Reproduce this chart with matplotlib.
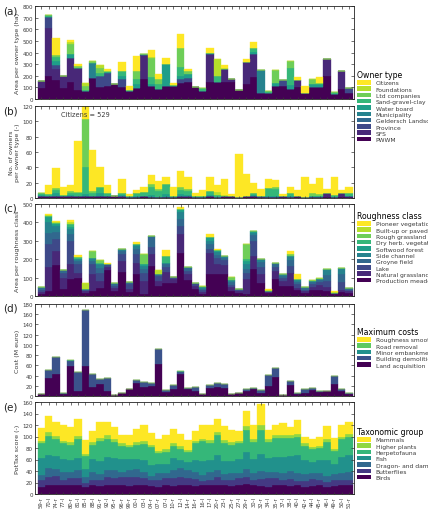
import numpy as np
import matplotlib
matplotlib.use('Agg')
import matplotlib.pyplot as plt
from matplotlib.patches import Patch

labels = ['59-r','70-l','74-r','77-l','80-r','81-l','85-l','88-l','91-r','92-l','95-r','96-r','99-r',
          '00-l','03-l','04-r','07-r','07-l','10-r','12-l','14-r','16-r','16-l','17-l','20-r','23-l',
          '25-r','27-l','29-r','30-l','32-r','34-l','35-r','37-l','38-l','40-l','42-r','44-l','45-r',
          '46-l','49-r','50-l','51-r']

# ---- (a) Area per owner type (ha) ----
owner_names = ['PWWM','SFS','Province','Geldersch Landschap','Municipality','Water board',
               'Sand-gravel-clay','Ltd companies','Foundations','Citizens']
a_pwwm = [95,195,160,95,150,80,65,180,100,115,125,100,65,92,175,110,86,110,110,140,145,100,70,145,150,150,145,80,130,185,55,55,110,115,90,100,55,100,100,195,45,85,50]
a_sfs = [60,420,100,100,200,190,0,0,0,0,0,0,0,0,205,0,0,0,0,0,0,0,0,240,0,110,28,0,190,200,0,0,0,0,0,65,0,0,0,145,0,160,0]
a_prov = [0,90,30,0,0,0,0,0,100,105,0,70,0,0,0,0,0,0,0,30,35,0,0,0,0,0,0,0,0,0,0,0,0,50,0,0,0,0,0,0,0,0,42]
a_gl = [0,0,0,0,0,0,0,0,0,0,5,0,0,0,0,0,0,0,0,0,0,0,0,0,0,0,0,0,0,0,0,0,0,0,0,0,0,0,0,0,0,0,0]
a_mun = [0,0,0,0,0,0,0,130,0,0,0,0,0,0,0,0,0,0,0,0,0,0,0,0,0,0,0,0,0,0,198,0,0,0,0,0,0,0,0,0,0,0,0]
a_wb = [0,0,40,0,40,0,0,0,0,15,0,25,0,38,10,20,0,190,0,30,35,0,0,10,0,0,0,0,0,20,0,0,30,0,30,0,0,25,25,0,0,0,0]
a_sand = [0,15,30,0,0,0,15,0,20,0,0,50,15,40,0,60,45,0,10,75,0,0,22,0,45,0,0,0,0,35,0,17,0,0,150,0,0,0,0,0,18,0,0]
a_ltd = [0,0,15,0,80,15,30,20,50,10,0,0,0,75,0,160,45,0,0,160,25,0,0,0,0,0,0,0,0,0,0,0,113,0,60,0,0,48,15,5,0,0,0]
a_found = [0,0,0,0,20,0,25,0,25,0,0,0,0,0,0,15,0,0,0,0,0,0,0,0,150,10,0,0,0,0,0,0,0,0,0,0,0,0,0,0,0,0,0]
a_cit = [0,0,150,0,15,17,0,0,0,10,0,77,35,129,0,58,40,49,15,120,20,0,0,42,0,26,0,0,25,50,0,0,0,0,0,22,55,0,47,0,0,0,0]

# ---- (b) No. of owners per owner type ----
b_pwwm = [1,1,1,1,1,1,1,1,1,1,2,1,1,1,1,1,1,1,1,1,1,1,1,1,1,1,1,1,1,1,1,1,1,1,1,1,1,1,1,1,1,1,1]
b_sfs = [1,1,1,1,1,1,1,1,1,1,0,0,0,0,2,0,0,0,0,0,0,0,0,1,0,1,1,0,1,1,0,0,0,0,0,1,0,0,0,5,0,5,0]
b_prov = [0,1,1,0,0,1,0,0,1,0,0,1,0,0,0,0,0,0,0,1,1,0,0,0,0,0,0,0,0,0,0,0,0,1,0,0,0,0,0,0,0,0,2]
b_gl = [0]*43
b_mun = [0,0,0,0,0,0,0,0,0,0,0,0,0,0,0,0,0,0,0,0,0,0,0,0,0,0,0,0,0,0,2,0,0,0,0,0,0,0,0,0,0,0,0]
b_wb = [2,0,3,0,2,0,3,0,3,0,0,2,0,2,0,3,0,4,0,3,2,0,0,2,0,0,0,0,0,2,0,2,2,0,2,0,0,2,2,0,0,0,0]
b_sand = [3,2,5,2,3,3,35,4,9,4,0,3,1,3,5,10,8,13,2,6,5,2,2,5,3,0,0,0,0,3,0,10,9,0,3,0,0,0,0,0,3,0,3]
b_ltd = [0,0,2,0,2,2,63,3,0,0,0,0,0,1,0,4,3,0,0,4,3,0,0,0,0,0,0,0,0,0,0,0,3,0,1,0,0,3,2,0,0,0,0]
b_found = [0,0,0,0,0,0,0,0,0,0,0,0,0,0,0,0,0,0,0,0,0,0,0,0,4,2,0,0,0,0,0,0,0,0,0,0,0,0,0,0,0,0,0]
b_cit = [0,12,26,11,8,66,529,54,25,11,1,18,3,3,7,12,10,9,12,20,15,3,7,18,9,21,3,57,29,13,9,12,8,3,8,9,26,12,21,6,23,4,8]

# ---- (c) Area per roughness class ----
rough_names = ['Production meadow','Natural grassland','Lake','Groyne field','Side channel',
               'Softwood forest','Dry herb. vegetation','Rough grassland','Built-up or paved',
               'Pioneer vegetation']
c_pm = [10,27,170,36,91,96,18,27,45,140,27,133,20,118,9,164,55,73,73,236,85,40,10,122,120,118,27,15,10,145,70,15,95,55,55,30,15,30,35,25,10,20,15]
c_ng = [10,128,75,64,82,31,10,91,36,15,15,58,20,64,73,63,27,55,18,100,33,15,10,114,55,50,20,10,80,75,50,5,40,25,70,15,10,20,25,25,5,15,10]
c_lake = [15,127,65,27,127,46,5,55,46,15,15,36,25,45,45,37,25,27,13,46,18,10,10,18,30,25,15,10,35,80,35,5,25,20,40,20,10,15,15,30,3,40,10]
c_gf = [10,60,40,13,36,18,0,18,27,5,9,18,13,27,18,54,10,18,0,36,14,8,10,28,20,15,15,5,20,30,30,0,15,10,30,10,8,10,10,35,0,45,5]
c_sc = [4,58,32,0,28,9,4,18,18,0,7,10,0,18,18,9,5,9,0,37,5,0,10,18,15,10,10,0,30,15,15,3,7,8,20,10,6,5,10,25,0,25,5]
c_sf = [0,27,8,0,9,0,0,0,0,0,0,0,0,9,9,0,0,0,0,13,0,0,0,18,7,0,0,0,15,6,0,0,0,0,0,0,0,0,0,5,0,6,0]
c_dh = [0,8,5,0,18,10,0,0,10,0,0,0,0,0,0,0,0,36,0,5,0,0,0,0,5,0,0,0,10,0,0,0,0,0,0,5,0,0,0,0,0,0,0]
c_rg = [0,0,0,0,0,0,0,36,13,0,0,0,0,0,55,0,0,0,0,0,0,0,5,0,0,0,17,0,82,0,0,0,0,0,15,0,0,5,5,0,0,0,0]
c_bp = [0,5,5,0,9,0,36,0,0,0,0,0,0,0,0,0,18,0,0,0,0,0,0,0,0,0,0,0,0,0,0,3,0,0,0,0,0,0,0,0,5,0,0]
c_pv = [0,5,5,0,13,12,0,0,0,3,0,0,0,14,0,0,0,31,0,12,0,0,0,18,3,0,0,0,0,0,0,5,0,0,15,32,0,0,0,0,4,0,0]

# ---- (d) Cost (M euro) ----
cost_names = ['Land acquisition','Building demolition','Minor embankment','Road removal','Roughness smoothing']
d_la = [3,35,44,3,59,10,58,18,23,10,1,5,13,25,18,20,62,8,13,43,13,10,3,15,18,15,3,6,10,14,5,20,38,1,21,4,5,12,8,9,23,9,3]
d_bd = [0,15,32,2,10,37,111,25,10,26,0,0,0,6,10,5,30,4,8,4,3,8,0,6,8,8,0,0,4,2,7,22,17,0,8,1,9,4,2,1,16,4,2]
d_me = [0,0,1,0,1,0,0,0.5,0,0,0,0,0,0,0,0,0,0,0,1,0,0,0,0,0,0,0,0,0,0,0,0,0,0,0,0,0,0,0,0,0,0,0]
d_rr = [0,0.5,0,0,0.5,0,0,0,0,0,0,0,0,0,0,0,0,0,0,1,0,0,0,0,0,0,0,0,0,0,0,0,0,0,0,0,0,0,0,0,0,0,0]
d_rs = [0]*43

# ---- (e) PotTax score ----
tax_names = ['Birds','Butterflies','Dragon- and damselflies','Fish','Herpetofauna','Higher plants','Mammals']
e_birds = [13,16,16,15,15,15,12,15,14,16,15,15,14,15,15,14,13,15,14,15,15,14,15,15,16,15,14,15,17,15,14,13,15,15,14,15,13,14,15,13,14,16,15]
e_butter = [12,14,16,10,12,12,8,10,10,14,12,14,15,14,12,10,12,12,14,15,12,12,8,10,14,10,10,12,12,10,12,14,12,10,12,8,10,12,10,8,10,8,10]
e_dragon = [8,16,12,14,12,14,10,14,10,12,14,10,12,14,12,8,12,10,14,16,14,12,10,14,12,10,12,10,14,12,14,12,12,12,14,14,12,10,12,10,10,12,14]
e_fish = [29,22,22,22,20,22,14,22,24,22,22,22,20,18,20,18,16,16,20,14,14,22,24,20,26,22,22,24,30,24,30,24,26,28,26,30,24,20,22,28,18,28,28]
e_herp = [26,33,29,27,27,32,22,25,34,32,28,22,20,24,28,31,18,20,22,19,18,28,35,30,34,32,28,27,39,30,42,27,32,32,31,32,25,22,21,31,22,31,32]
e_plants = [5,6,6,5,5,6,4,5,5,6,5,5,5,5,5,4,4,5,5,5,4,5,4,5,6,5,5,4,6,5,8,5,5,5,5,5,4,4,4,5,4,4,5]
e_mammals = [21,28,25,27,25,30,24,18,29,24,21,14,16,23,28,21,21,24,24,21,17,16,24,26,23,24,21,17,26,24,36,17,18,22,14,25,12,14,16,23,20,21,21]

TXT = '#3a3a3a'
fig = plt.figure(figsize=(4.28, 5.1), dpi=100)
L = 35 / 428
W = 319 / 428
rows = [(7, 100), (107, 199), (205, 297), (305, 397), (403, 495)]
axes = [fig.add_axes([L, 1 - b / 510, W, (b - t) / 510]) for t, b in rows]
x = np.arange(len(labels))


def stack(ax, series, names, title, leg_y):
    cols = plt.cm.viridis(np.linspace(0, 1, len(series)))
    bottom = np.zeros(len(labels))
    handles = []
    for s, c, n in zip(series, cols, names):
        s = np.asarray(s, float)
        ax.bar(x, s, bottom=bottom, width=1.0, color=c, edgecolor=c, linewidth=0.25)
        bottom += s
        handles.append(Patch(facecolor=c, edgecolor='none', label=n))
    if title is not None:
        fig.legend(handles=handles[::-1], loc='upper left', bbox_to_anchor=(357 / 428, leg_y),
                   frameon=False, title=title, fontsize=4.3, title_fontsize=5.6,
                   alignment='left', handlelength=2.3, handleheight=0.8, labelspacing=0.16,
                   borderpad=0, borderaxespad=0, handletextpad=0.8,
                   labelcolor=TXT)


stack(axes[0], [a_pwwm, a_sfs, a_prov, a_gl, a_mun, a_wb, a_sand, a_ltd, a_found, a_cit],
      owner_names, 'Owner type', 1 - 71 / 510)
stack(axes[1], [b_pwwm, b_sfs, b_prov, b_gl, b_mun, b_wb, b_sand, b_ltd, b_found, b_cit],
      owner_names, None, None)
stack(axes[2], [c_pm, c_ng, c_lake, c_gf, c_sc, c_sf, c_dh, c_rg, c_bp, c_pv],
      rough_names, 'Roughness class', 1 - 212 / 510)
stack(axes[3], [d_la, d_bd, d_me, d_rr, d_rs], cost_names, 'Maximum costs', 1 - 328 / 510)
stack(axes[4], [e_birds, e_butter, e_dragon, e_fish, e_herp, e_plants, e_mammals],
      tax_names, 'Taxonomic group', 1 - 428 / 510)

ylims = [800, 120, 500, 180, 160]
ysteps = [100, 20, 100, 20, 20]
ylabels = ['Area per owner type (ha)', 'No. of owners\nper owner type (-)',
           'Area per roughness class', 'Cost (M euro)', 'PotTax score (-)']
panel = ['(a)', '(b)', '(c)', '(d)', '(e)']
for i, ax in enumerate(axes):
    ax.set_xlim(-0.87, 42.68)
    ax.set_ylim(0, ylims[i])
    ax.set_yticks(np.arange(0, ylims[i] + 1, ysteps[i]))
    ax.set_xticks(x)
    ax.tick_params(direction='in', top=True, right=True, length=2, width=0.5,
                   labelsize=4, colors=TXT, pad=1.5)
    ax.tick_params(axis='x', length=1.8)
    for sp in ax.spines.values():
        sp.set_linewidth(0.6)
        sp.set_color('#222222')
    ax.set_ylabel(ylabels[i], fontsize=4.6, color=TXT, labelpad=1.5, linespacing=1.3)
    if i < 4:
        ax.set_xticklabels([])
    else:
        ax.set_xticklabels(labels, rotation=90, fontsize=3.8)
    y0 = rows[i][0]
    fig.text(3 / 428, 1 - (y0 + 4) / 510, panel[i], fontsize=7.5, color='#222222',
             ha='left', va='center')

axes[1].text(6, 110, 'Citizens = 529', fontsize=4.8, color=TXT, ha='center', va='center')

fig.savefig('out.png', dpi=100)
